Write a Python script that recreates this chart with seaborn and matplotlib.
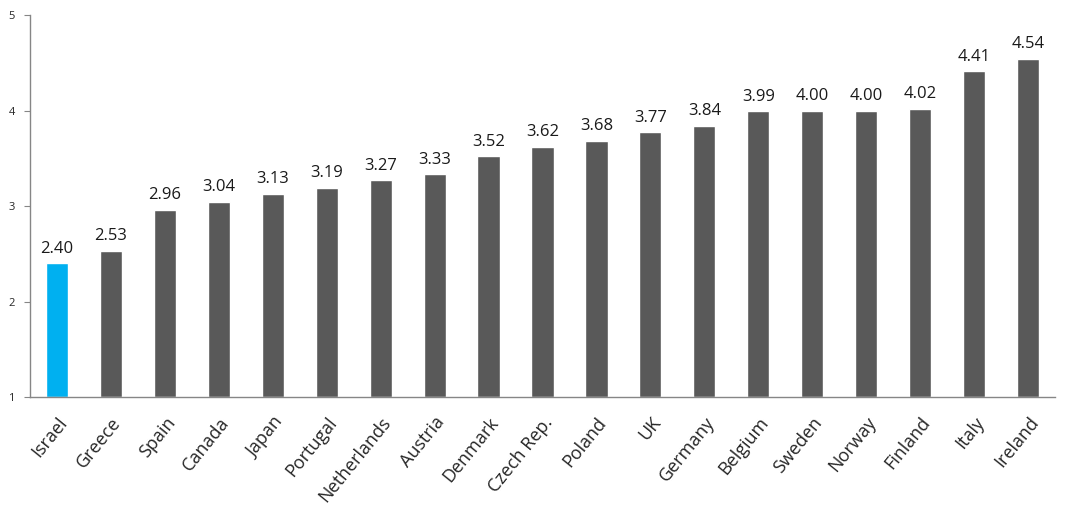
import matplotlib
matplotlib.use("Agg")
import matplotlib.pyplot as plt
import pandas as pd
import seaborn as sns

countries = ["Israel", "Greece", "Spain", "Canada", "Japan", "Portugal", "Netherlands",
             "Austria", "Denmark", "Czech Rep.", "Poland", "UK", "Germany", "Belgium",
             "Sweden", "Norway", "Finland", "Italy", "Ireland"]
values = [2.40, 2.53, 2.96, 3.04, 3.13, 3.19, 3.27, 3.33, 3.52, 3.62, 3.68, 3.77,
          3.84, 3.99, 4.00, 4.00, 4.02, 4.41, 4.54]
highlight = "Israel"

sns.set_style("white")
plt.rcParams["font.family"] = ["Open Sans", "DejaVu Sans"]

df = pd.DataFrame({"country": countries, "value": values})
df["height"] = df["value"] - 1
palette = {c: ("#00b0f0" if c == highlight else "#595959") for c in countries}

fig = plt.figure(figsize=(10.66, 5.23), dpi=100)
ax = fig.add_axes([30 / 1066, 126 / 523, 1025 / 1066, 382 / 523])
sns.barplot(data=df, x="country", y="height", hue="country", palette=palette,
            width=0.41, bottom=1, legend=False, ax=ax, saturation=1)

for i, v in enumerate(values):
    ax.text(i, v + 0.07, f"{v:.2f}", ha="center", va="bottom", fontsize=12, color="#1a1a1a")

ax.set_ylim(1, 5)
ax.set_xlim(-0.5, len(countries) - 0.5)
ax.set_yticks([1, 2, 3, 4, 5])
ax.set_yticklabels(["1", "2", "3", "4", "5"], fontsize=8)
ax.set_xticks(range(len(countries)))
ax.set_xticklabels(countries, rotation=51, ha="right", rotation_mode="anchor", fontsize=13)
ax.tick_params(axis="y", length=4, width=0.8, color="#868686", direction="out", pad=7, left=True)
ax.tick_params(axis="x", length=0, pad=12)
ax.set_xlabel("")
ax.set_ylabel("")
for s in ["top", "right"]:
    ax.spines[s].set_visible(False)
for s in ["left", "bottom"]:
    ax.spines[s].set_color("#868686")
    ax.spines[s].set_linewidth(1)

fig.savefig("out.png", dpi=100)
